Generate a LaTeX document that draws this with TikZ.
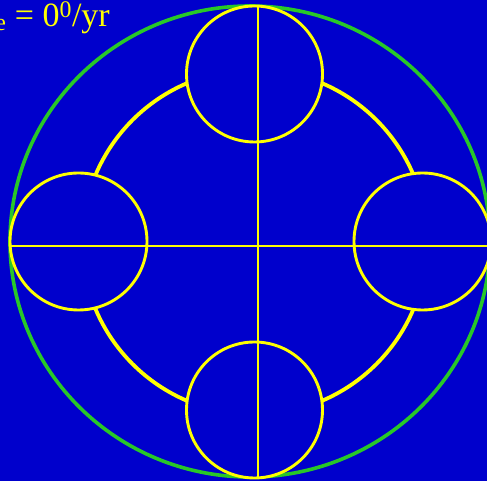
\documentclass[tikz,border=0pt]{standalone}
\usepackage{fontspec}
\setmainfont{Liberation Serif}
\usetikzlibrary{positioning}
\definecolor{slideblue}{RGB}{0,0,204}
\definecolor{ringyellow}{RGB}{255,255,0}
\definecolor{earthgreen}{RGB}{40,200,40}

\begin{document}
\begin{tikzpicture}[x=1pt,y=1pt]
\tikzset{
  bigring/.style={draw=earthgreen,line width=3.6pt},
  orbit/.style={draw=ringyellow,line width=3.8pt},
  planet/.style={circle,draw=ringyellow,fill=slideblue,line width=2.9pt,minimum size=136pt,inner sep=0pt},
  axis/.style={draw=ringyellow,line width=2.9pt},
  label/.style={text=ringyellow,font=\fontsize{34}{40}\selectfont,inner sep=0pt}
}
\useasboundingbox (0,0) rectangle (487,481);
\fill[slideblue] (0,0) rectangle (487,481);
\draw[bigring] (250,239.5) ellipse [x radius=240pt,y radius=235.5pt];
\draw[orbit] (254.5,239) circle [radius=172.5pt];
\node[planet] (p_top) at (254.5,407) {};
\node[planet] (p_bot) at (254.5,71) {};
\node[planet,minimum size=137pt] (p_left) at (78.5,239.5) {};
\node[planet,minimum size=137pt] (p_right) at (422.5,239.5) {};
\coordinate (h_a) at (10,235);
\coordinate (h_b) at (495,235);
\coordinate (v_a) at (258,476);
\coordinate (v_b) at (258,4);
\draw[axis] (h_a) -- (h_b);
\draw[axis] (v_a) -- (v_b);
\node[label,anchor=base east] (rate) at (110,454) {Ω\textsubscript{e} = 0\textsuperscript{0}/yr};
\end{tikzpicture}
\end{document}
